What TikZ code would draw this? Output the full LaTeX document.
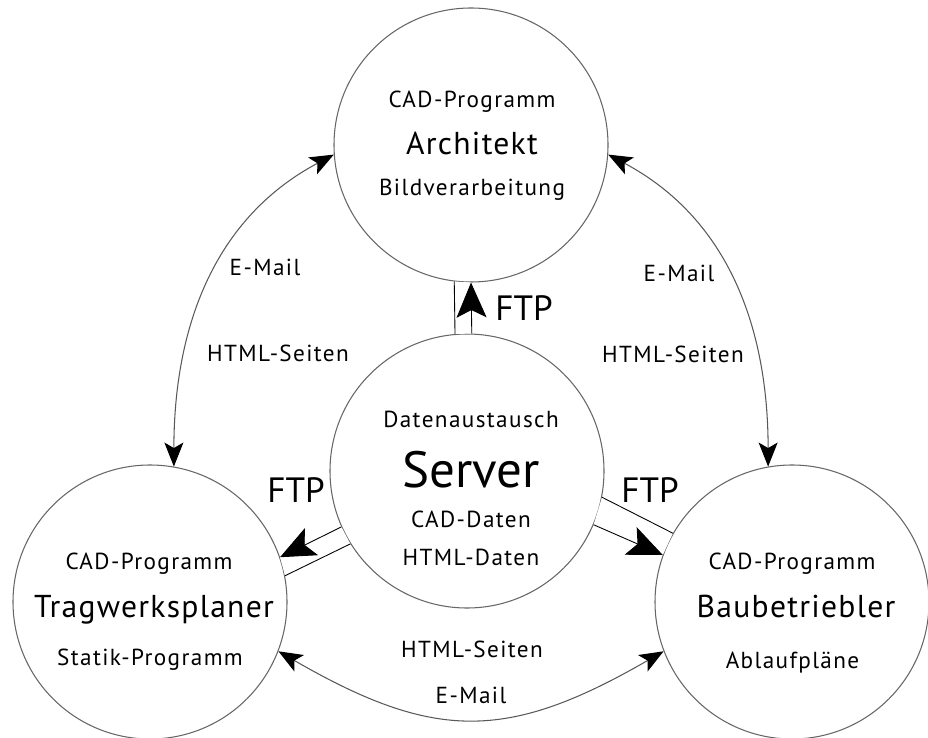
\documentclass[tikz,border=0pt]{standalone}
\usepackage{fontspec}
\setmainfont{PT Sans}[LetterSpace=6]
\usetikzlibrary{arrows.meta,calc}

\begin{document}
\begin{tikzpicture}
	[   cnode/.style={draw=black!60,line width=0.6pt,minimum size=5.48cm,inner sep=0pt,circle},
	    txt/.style={anchor=base,inner sep=0pt,font=\fontsize{13.2}{15}\selectfont},
	    bigtxt/.style={anchor=base,inner sep=0pt,font=\fontsize{18}{22}\selectfont\addfontfeature{LetterSpace=4}},
	    ftptxt/.style={anchor=base,inner sep=0pt,font=\fontsize{20}{24}\selectfont\addfontfeature{LetterSpace=0}},
	]
	\tikzset{normal arrow/.style={draw=black!65,line width=0.6pt,
			{Stealth[length=4.8mm,width=3.8mm,inset=1.1mm,color=black]}-{Stealth[length=4.8mm,width=3.8mm,inset=1.1mm,color=black]}}}
	\tikzset{ftp arrow/.style={draw,line width=0.5pt,-{Stealth[length=7mm,width=6mm,inset=1.5mm]}}}
	\tikzset{wall/.style={draw,line width=0.5pt}}
	\useasboundingbox (0,0) rectangle (18.56,-14.76);
	
	% the four circles
	\node[cnode] (arch) at (9.42,-2.90) {};
	\node[cnode] (srv) at (9.34,-9.42) {};
	\node[cnode] (trag) at (3.00,-12.04) {};
	\node[cnode] (baub) at (15.84,-12.04) {};
	
	% texts inside
	\node[txt] (arch-1) at (9.44,-2.16) {CAD-Programm};
	\node[bigtxt] (arch-2) at (9.44,-3.10) {Architekt};
	\node[txt] (arch-3) at (9.44,-3.92) {Bildverarbeitung};
	
	\node[txt] (srv-1) at (9.42,-8.54) {Datenaustausch};
	\node[anchor=base,inner sep=0pt,font=\fontsize{29}{34}\selectfont\addfontfeature{LetterSpace=0}] (srv-2) at (9.42,-9.74) {Server};
	\node[txt] (srv-3) at (9.42,-10.54) {CAD-Daten};
	\node[txt] (srv-4) at (9.42,-11.30) {HTML-Daten};
	
	\node[txt] (trag-1) at (2.98,-11.38) {CAD-Programm};
	\node[bigtxt] (trag-2) at (3.08,-12.34) {Tragwerksplaner};
	\node[txt] (trag-3) at (3.00,-13.30) {Statik-Programm};
	
	\node[txt] (baub-1) at (15.84,-11.38) {CAD-Programm};
	\node[bigtxt] (baub-2) at (15.92,-12.34) {Baubetriebler};
	\node[txt] (baub-3) at (15.85,-13.36) {Ablaufpläne};
	
	% E-Mail / HTML connections
	\path[normal arrow] (trag.80) to[out=90,in=208] (arch.184);
	\path[normal arrow] (arch.356) to[out=-28,in=90] (baub.100);
	\path[normal arrow] (trag.339) to[out=-30,in=210,looseness=1.2] (baub.201);
	
	\node[txt] (m-1) at (5.30,-5.52) {E-Mail};
	\node[txt] (h-1) at (5.56,-7.24) {HTML-Seiten};
	\node[txt] (m-2) at (13.58,-5.64) {E-Mail};
	\node[txt] (h-2) at (13.46,-7.26) {HTML-Seiten};
	\node[txt] (h-3) at (9.44,-13.14) {HTML-Seiten};
	\node[txt] (m-3) at (9.42,-14.06) {E-Mail};
	
	% FTP channels
	\fill[white] (srv.95) -- (srv.88) -- (arch.270) -- (arch.263) -- cycle;
	\fill[white] (srv.204) -- (srv.212) -- (trag.11) -- (trag.19) -- cycle;
	\fill[white] (srv.349) -- (srv.337) -- (baub.160) -- (baub.150) -- cycle;
	
	\path[wall] (srv.95) -- (arch.263);
	\path[ftp arrow] (srv.88) -- (arch.270);
	\path[ftp arrow] (srv.204) -- (trag.19);
	\path[wall] (srv.212) -- (trag.11);
	\path[wall] (srv.349) -- (baub.150);
	\path[ftp arrow] (srv.337) -- (baub.160);
	
	\node[ftptxt] (ftp-1) at (10.48,-6.42) {FTP};
	\node[ftptxt] (ftp-2) at (5.92,-10.04) {FTP};
	\node[ftptxt] (ftp-3) at (13.00,-10.04) {FTP};

\end{tikzpicture}
\end{document}
